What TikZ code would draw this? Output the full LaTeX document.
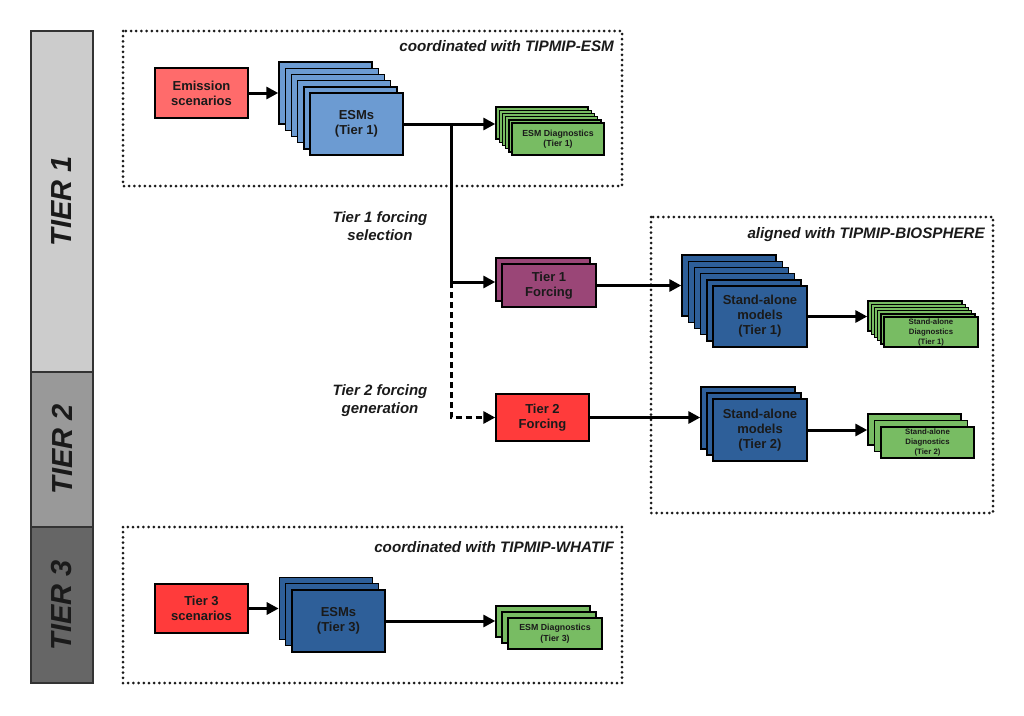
\documentclass[tikz,border=0pt]{standalone}
\usepackage{fontspec}
\setmainfont{Liberation Sans}
\usetikzlibrary{arrows.meta}
\definecolor{emis}{HTML}{FF6B6B}
\definecolor{lblue}{HTML}{6C9BD2}
\definecolor{dblue}{HTML}{2E5F99}
\definecolor{dgreen}{HTML}{78BC63}
\definecolor{purp}{HTML}{9A4677}
\definecolor{redf}{HTML}{FF3B3B}
\definecolor{tierA}{HTML}{CCCCCC}
\definecolor{tierB}{HTML}{999999}
\definecolor{tierC}{HTML}{666666}
\definecolor{txt}{HTML}{1A1A1A}
\tikzset{
  card/.style={draw=black, line width=1.4pt, inner sep=0pt, text=txt, align=center},
  fBig/.style={font=\fontsize{13}{15}\selectfont\bfseries},
  fDiag/.style={font=\fontsize{8.8}{10.5}\selectfont\bfseries},
  fSmall/.style={font=\fontsize{7.8}{10}\selectfont\bfseries},
  flow/.style={line width=3pt, -{Triangle[length=12pt,width=12pt]}},
  dflow/.style={flow, dash pattern=on 6pt off 4pt},
  dotbox/.style={line width=3pt, line cap=round, dash pattern=on 0pt off 5.2pt, draw=txt},
  grouplbl/.style={font=\fontsize{15.2}{17}\selectfont\bfseries\itshape, text=txt, inner sep=0pt},
  sidelbl/.style={font=\fontsize{15}{17.5}\selectfont\bfseries\itshape, text=txt, align=center, inner sep=0pt},
  tierbar/.style={draw=black!80, line width=1.6pt, inner sep=0pt, minimum width=62pt},
  tierlbl/.style={rotate=90, font=\fontsize{29}{32}\selectfont\bfseries\itshape, text=txt},
}
% #1 name, #2 x, #3 y (front card centre), #4 w, #5 h, #6 count, #7 offset, #8 style, #9 text
\newcommand\mkstack[9]{%
  \pgfmathtruncatemacro\nbk{#6-1}%
  \node[card,#8,minimum width=#4pt,minimum height=#5pt] (#1b) at ({#2-\nbk*#7},{#3-\nbk*#7}) {};
  \ifnum\nbk>1
    \foreach \i in {\nbk,...,2}{%
      \pgfmathtruncatemacro\jj{\i-1}%
      \node[card,#8,minimum width=#4pt,minimum height=#5pt] at ({#2-\jj*#7},{#3-\jj*#7}) {};
    }
  \fi
  \node[card,#8,minimum width=#4pt,minimum height=#5pt] (#1) at (#2,#3) {#9};
}
\begin{document}
\begin{tikzpicture}[x=1pt,y=-1pt]
\useasboundingbox (0,0) rectangle (1024,715);

% tier bar
\node[tierbar,fill=tierA,minimum height=341pt] (barA) at (62,201.5) {};
\node[tierbar,fill=tierB,minimum height=155pt] (barB) at (62,449.5) {};
\node[tierbar,fill=tierC,minimum height=156pt] (barC) at (62,605) {};
\node[tierlbl] (lblA) at (barA) {TIER 1};
\node[tierlbl] (lblB) at (barB) {TIER 2};
\node[tierlbl] (lblC) at (barC) {TIER 3};

% dotted group boxes
\draw[dotbox] (123,31) rectangle (622,186);
\draw[dotbox] (651,217) rectangle (993,513);
\draw[dotbox] (123,527) rectangle (622,683);
\node[grouplbl,anchor=base east] (gA) at (614,51) {coordinated with TIPMIP-ESM};
\node[grouplbl,anchor=base east] (gB) at (985,238) {aligned with TIPMIP-BIOSPHERE};
\node[grouplbl,anchor=base east] (gC) at (614,552) {coordinated with TIPMIP-WHATIF};

% tier 1 ESM row
\node[card,fill=emis,fBig,minimum width=93pt,minimum height=50pt] (emis) at (201.5,93) {Emission\\scenarios};
\mkstack{esmA}{356.5}{124}{93}{62}{6}{6.2}{fill=lblue,fBig}{ESMs\\(Tier 1)}
\mkstack{esmdA}{558}{139}{92}{32}{6}{3.2}{fill=dgreen,fDiag}{ESM Diagnostics\\(Tier 1)}

% forcings
\mkstack{tfA}{549}{285.5}{94}{43}{2}{6}{fill=purp,fBig}{Tier 1\\Forcing}
\node[card,fill=redf,fBig,minimum width=93pt,minimum height=47pt] (tfB) at (542.5,417.5) {Tier 2\\Forcing};

\node[sidelbl] (selA) at (380,226) {Tier 1 forcing\\selection};
\node[sidelbl] (selB) at (380,400.5) {Tier 2 forcing\\generation};

% stand-alone
\mkstack{saA}{760}{316.5}{94}{61}{6}{6.2}{fill=dblue,fBig}{Stand-alone\\models\\(Tier 1)}
\mkstack{sadA}{931}{332}{94}{30}{6}{3.2}{fill=dgreen,fSmall}{Stand-alone\\Diagnostics\\(Tier 1)}
\mkstack{saB}{760}{430}{94}{62}{3}{6}{fill=dblue,fBig}{Stand-alone\\models\\(Tier 2)}
\mkstack{sadB}{927.5}{442.5}{93}{31}{3}{6.5}{fill=dgreen,fSmall}{Stand-alone\\Diagnostics\\(Tier 2)}

% tier 3 row
\node[card,fill=redf,fBig,minimum width=93pt,minimum height=49pt] (tsC) at (201.5,608.5) {Tier 3\\scenarios};
\mkstack{esmC}{338.5}{621}{93}{62}{3}{6.3}{fill=dblue,fBig}{ESMs\\(Tier 3)}
\mkstack{esmdC}{555}{633.5}{94}{31}{3}{6}{fill=dgreen,fDiag}{ESM Diagnostics\\(Tier 3)}

% connectors
\coordinate (brA) at (451,124);
\coordinate (brB) at (451,282);
\draw[flow] (emis.east) -- (emis.east -| esmAb.west);
\draw[flow] (esmA.east) -- (esmA.east -| esmdAb.west);
\draw[line width=3pt] (brA) -- (brB);
\draw[flow] (brB) -- (brB -| tfAb.west);
\draw[dflow] (brB) |- (tfB.west);
\draw[flow] (tfA.east) -- (tfA.east -| saAb.west);
\draw[flow] (tfB.east) -- (tfB.east -| saBb.west);
\draw[flow] (saA.east) -- (saA.east -| sadAb.west);
\draw[flow] (saB.east) -- (saB.east -| sadBb.west);
\draw[flow] (tsC.east) -- (tsC.east -| esmCb.west);
\draw[flow] (esmC.east) -- (esmC.east -| esmdCb.west);
\end{tikzpicture}
\end{document}
